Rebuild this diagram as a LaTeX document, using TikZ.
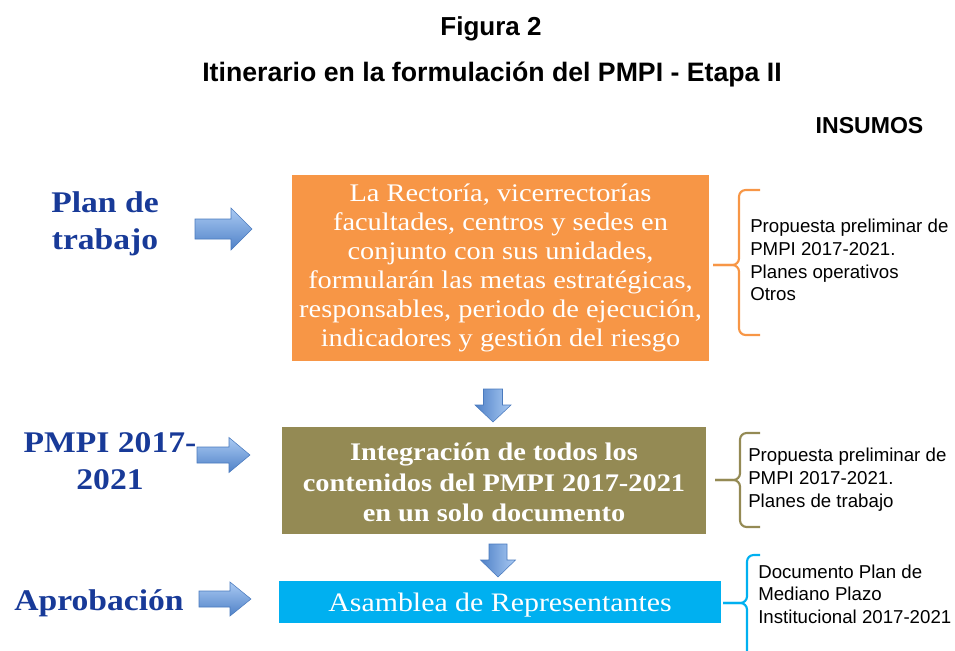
\documentclass[tikz,border=0pt]{standalone}
\usepackage{fontspec}
\setmainfont{Liberation Serif}
\newfontfamily\pmpiserif{Liberation Serif}[FakeStretch=1.12]
\newfontfamily\pmpisans{Liberation Sans}

\definecolor{etapaorange}{RGB}{247,150,70}
\definecolor{etapaolive}{RGB}{148,138,84}
\definecolor{etapacyan}{RGB}{0,176,240}
\definecolor{etapablue}{RGB}{24,58,152}
\definecolor{flechaclara}{RGB}{170,202,243}
\definecolor{flechaoscura}{RGB}{79,129,199}
\definecolor{flechaborde}{RGB}{74,122,190}

\tikzset{
    etapa/.style={inner sep=0pt, align=center, text=white},
    fase/.style={align=center, text=etapablue, inner sep=0pt,
        font=\pmpiserif\bfseries\fontsize{22.5}{27.75}\selectfont},
    insumo/.style={anchor=west, align=left, inner sep=0pt,
        font=\pmpisans\fontsize{14}{17}\selectfont},
    llave/.style={line width=1.6pt, rounded corners=5pt},
    flechader/.style={top color=flechaclara, bottom color=flechaoscura, draw=flechaborde, thin},
    flechaabajo/.style={left color=flechaoscura, right color=flechaclara, draw=flechaborde, thin}
}

\begin{document}
\begin{tikzpicture}[x=0.75pt,y=-0.75pt]

    \clip (0,0) rectangle (955,650);

    % titulos
    \node[anchor=base, font=\pmpisans\bfseries\fontsize{19.5}{23}\selectfont] (figura) at (491,35) {Figura 2};
    \node[anchor=base, font=\pmpisans\bfseries\fontsize{20}{23}\selectfont] (titulo) at (492,81) {Itinerario en la formulación del PMPI - Etapa II};
    \node[anchor=base, font=\pmpisans\bfseries\fontsize{17.3}{20}\selectfont] (insumos) at (869.5,133) {INSUMOS};

    % fases a la izquierda
    \node[fase] (plan) at (105,224) {Plan de\\trabajo};
    \node[fase] (pmpi) at (110,461) {PMPI 2017-\\2021};
    \node[fase, anchor=base] (aprob) at (99,610) {Aprobación};

    % flechas hacia la derecha
    \foreach \x/\y/\l/\b/\h in {195/229/57/20/42, 197/455/53/16/35, 199/599/52/16/34}
        \shade[flechader] (\x,\y-\b/2) -- (\x+\l-21,\y-\b/2) -- (\x+\l-21,\y-\h/2) -- (\x+\l,\y)
            -- (\x+\l-21,\y+\h/2) -- (\x+\l-21,\y+\b/2) -- (\x,\y+\b/2) -- cycle;

    % cajas de la etapa
    \node[etapa, fill=etapaorange, minimum width=312.75pt, minimum height=139.5pt,
        font=\pmpiserif\fontsize{19}{21.75}\selectfont] (rectoria) at (500.5,268)
        {La Rectoría, vicerrectorías\\facultades, centros y sedes en\\conjunto con sus unidades,\\formularán las metas estratégicas,\\responsables, periodo de ejecución,\\indicadores y gestión del riesgo};
    \node[etapa, fill=etapaolive, minimum width=318pt, minimum height=80.25pt,
        font=\pmpiserif\bfseries\fontsize{19}{22.9}\selectfont] (integra) at (494,480.5)
        {\strut Integración de todos los\\contenidos del PMPI 2017-2021\\en un solo documento};
    \node[etapa, fill=etapacyan, minimum width=331.5pt, minimum height=31.5pt,
        text height=17pt, text depth=3.5pt,
        font=\pmpiserif\fontsize{20}{24}\selectfont] (asamblea) at (500,602)
        {Asamblea de Representantes};

    % flechas hacia abajo
    \foreach \x/\y/\l/\b/\h in {493/389/33/19/36, 498/544/33/18/35}
        \shade[flechaabajo] (\x-\b/2,\y) -- (\x-\b/2,\y+\l-17) -- (\x-\h/2,\y+\l-17) -- (\x,\y+\l)
            -- (\x+\h/2,\y+\l-17) -- (\x+\b/2,\y+\l-17) -- (\x+\b/2,\y) -- cycle;

    % llaves
    \draw[llave, etapaorange] (760,190) -- (739,190) -- (739,265) -- (713,265);
    \draw[llave, etapaorange] (713,265) -- (739,265) -- (739,335) -- (760,335);
    \draw[llave, etapaolive] (760,433) -- (740,433) -- (740,480) -- (715,480);
    \draw[llave, etapaolive] (715,480) -- (740,480) -- (740,527) -- (760,527);
    \draw[llave, etapacyan] (760,555) -- (747,555) -- (747,603) -- (723,603);
    \draw[llave, etapacyan] (723,603) -- (747,603) -- (747,670) -- (760,670);

    % insumos
    \node[insumo] (ins1) at (750,260) {Propuesta preliminar de\\PMPI 2017-2021.\\Planes operativos\\Otros};
    \node[insumo] (ins2) at (748,479.5) {Propuesta preliminar de\\PMPI 2017-2021.\\Planes de trabajo};
    \node[insumo] (ins3) at (758,594) {Documento Plan de\\Mediano Plazo\\Institucional 2017-2021};

\end{tikzpicture}
\end{document}
